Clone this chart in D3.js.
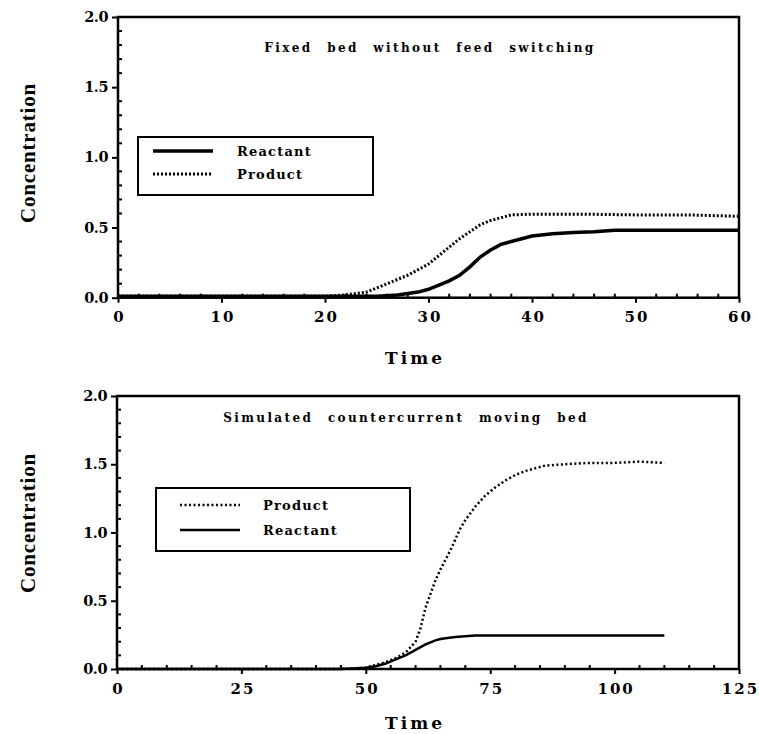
<!DOCTYPE html>
<html lang="en">
<head>
<meta charset="UTF-8" />
<title>Concentration vs Time</title>
<script src="https://d3js.org/d3.v7.min.js"></script>
<style>
  body { margin: 0; background: #fff; }
  svg text { font-family: "DejaVu Serif", serif; font-weight: bold; fill: #000; }
  .frame { fill: none; stroke: #000; stroke-width: 2.5; }
  .tick line { stroke: #000; stroke-width: 2; }
</style>
</head>
<body>
<div id="chart"></div>
<script>
// ---- data ----

// top panel: fixed bed without feed switching
const topTime_reactant = [0, 20, 25, 27, 29, 30, 31, 32, 33, 34, 35, 36, 37, 38, 39, 40, 42, 44, 46, 48, 50, 55, 60];
const topReactant      = [0.01, 0.01, 0.01, 0.02, 0.04, 0.06, 0.09, 0.12, 0.16, 0.22, 0.29, 0.34, 0.38, 0.40, 0.42, 0.44, 0.455, 0.465, 0.47, 0.48, 0.48, 0.48, 0.48];
const topTime_product  = [0, 20, 22, 24, 26, 28, 30, 31, 32, 33, 34, 35, 36, 37, 38, 40, 45, 50, 55, 60];
const topProduct       = [0.01, 0.01, 0.02, 0.04, 0.10, 0.16, 0.24, 0.30, 0.36, 0.42, 0.47, 0.52, 0.55, 0.57, 0.59, 0.595, 0.595, 0.59, 0.59, 0.58];

// bottom panel: simulated countercurrent moving bed
const botTime_product  = [0, 45, 48, 50, 52, 54, 56, 58, 60, 61, 62, 63, 64, 65, 66, 67, 68, 69, 70, 72, 74, 76, 78, 80, 82, 84, 86, 90, 95, 100, 105, 110];
const botProduct       = [0, 0, 0.005, 0.01, 0.03, 0.05, 0.08, 0.12, 0.2, 0.3, 0.45, 0.55, 0.65, 0.73, 0.8, 0.87, 0.95, 1.03, 1.09, 1.19, 1.27, 1.33, 1.38, 1.42, 1.45, 1.47, 1.49, 1.50, 1.51, 1.51, 1.52, 1.51];
const botTime_reactant = [0, 45, 48, 50, 52, 54, 56, 58, 60, 62, 64, 65, 66, 68, 70, 72, 75, 80, 90, 100, 110];
const botReactant      = [0, 0, 0.005, 0.01, 0.02, 0.04, 0.07, 0.10, 0.14, 0.18, 0.21, 0.22, 0.225, 0.235, 0.24, 0.245, 0.245, 0.245, 0.245, 0.245, 0.245];

const yTicks = [0, 0.5, 1.0, 1.5, 2.0];
const topXTicks = [0, 10, 20, 30, 40, 50, 60];
const botXTicks = [0, 25, 50, 75, 100, 125];

const topTitle = "Fixed bed without feed switching";
const botTitle = "Simulated countercurrent moving bed";

// ---- drawing ----
const W = 759, H = 734;
const svg = d3.select("#chart").append("svg").attr("width", W).attr("height", H);

function panel(opt) {
  const x = d3.scaleLinear().domain([0, opt.xmax]).range([opt.left, opt.right]);
  const y = d3.scaleLinear().domain([0, 2]).range([opt.bottom, opt.top]);
  const g = svg.append("g");

  // minor ticks (inward)
  const xMinor = d3.range(0, opt.xmax + 0.001, opt.xminor).filter(v => !opt.xticks.includes(v));
  g.selectAll(".xm").data(xMinor).join("line")
    .attr("x1", d => x(d)).attr("x2", d => x(d))
    .attr("y1", opt.bottom).attr("y2", opt.bottom - 4)
    .attr("stroke", "#000").attr("stroke-width", 2);
  const yMinor = d3.range(0, 2.001, 0.1).filter(v => Math.abs(v * 2 - Math.round(v * 2)) > 0.01);
  g.selectAll(".ym").data(yMinor).join("line")
    .attr("x1", opt.left).attr("x2", opt.left + 4)
    .attr("y1", d => y(d)).attr("y2", d => y(d))
    .attr("stroke", "#000").attr("stroke-width", 2);

  // major axes, ticks pointing out
  const xAxis = g.append("g").attr("transform", `translate(0,${opt.bottom})`)
    .call(d3.axisBottom(x).tickValues(opt.xticks).tickSize(5).tickPadding(9).tickFormat(d3.format("d")));
  xAxis.select(".domain").remove();
  xAxis.selectAll("text").style("font-size", "15px").attr("letter-spacing", 2).attr("dx", 1);

  const yAxis = g.append("g").attr("transform", `translate(${opt.left},0)`)
    .call(d3.axisLeft(y).tickValues(yTicks).tickSize(6).tickPadding(4).tickFormat(d3.format(".1f")));
  yAxis.select(".domain").remove();
  yAxis.selectAll("text").style("font-size", "14.5px").style("letter-spacing", "-0.5px");

  // frame
  g.append("rect").attr("class", "frame")
    .attr("x", opt.left).attr("y", opt.top)
    .attr("width", opt.right - opt.left).attr("height", opt.bottom - opt.top);

  // series
  const line = d3.line().x(d => x(d[0])).y(d => y(d[1]));
  opt.series.forEach(s => {
    g.append("path").datum(s.t.map((t, i) => [t, s.c[i]]))
      .attr("d", line).attr("fill", "none").attr("stroke", "#000")
      .attr("stroke-width", s.width).attr("stroke-dasharray", s.dash || null);
  });

  // title in plot
  g.append("text").attr("x", opt.titleX).attr("y", opt.titleY)
    .attr("text-anchor", "middle").style("font-size", "12px")
    .attr("letter-spacing", 2.4).attr("word-spacing", 8).text(opt.title);

  // legend
  const L = opt.legend;
  g.append("rect").attr("x", L.x).attr("y", L.y).attr("width", L.w).attr("height", L.h)
    .attr("fill", "#fff").attr("stroke", "#000").attr("stroke-width", 2);
  L.items.forEach((it, i) => {
    const yy = L.y + L.first + i * L.gap;
    g.append("line").attr("x1", L.lx1).attr("x2", L.lx2).attr("y1", yy).attr("y2", yy)
      .attr("stroke", "#000").attr("stroke-width", it.width).attr("stroke-dasharray", it.dash || null);
    g.append("text").attr("x", L.tx).attr("y", yy + 5).style("font-size", "13px")
      .attr("letter-spacing", 1.2).text(it.label);
  });

  // axis titles
  g.append("text").attr("transform", `translate(35,${opt.ylabY}) rotate(-90)`)
    .attr("text-anchor", "middle").style("font-family", "'Liberation Serif', serif")
    .style("font-size", "21px").attr("letter-spacing", 0.8).text("Concentration");
  g.append("text").attr("x", 415).attr("y", opt.xlabY)
    .attr("text-anchor", "middle").style("font-size", "17px").attr("letter-spacing", 3).text("Time");
}

panel({
  left: 118, right: 739, top: 17, bottom: 297.7, xmax: 60, xticks: topXTicks, xminor: 2,
  series: [
    { t: topTime_reactant, c: topReactant, width: 3.5 },
    { t: topTime_product, c: topProduct, width: 3, dash: "2,2" }
  ],
  title: topTitle, titleX: 430, titleY: 52,
  legend: { x: 138, y: 137, w: 235, h: 58, first: 14, gap: 23, lx1: 153, lx2: 213, tx: 237,
    items: [ { label: "Reactant", width: 3.5 }, { label: "Product", width: 3, dash: "2,2" } ] },
  ylabY: 153, xlabY: 364
});

panel({
  left: 117, right: 739, top: 396, bottom: 669, xmax: 125, xticks: botXTicks, xminor: 5,
  series: [
    { t: botTime_reactant, c: botReactant, width: 2.5 },
    { t: botTime_product, c: botProduct, width: 2.5, dash: "2,2.5" }
  ],
  title: botTitle, titleX: 406, titleY: 422,
  legend: { x: 156, y: 488, w: 254, h: 63, first: 17, gap: 25, lx1: 180, lx2: 240, tx: 263,
    items: [ { label: "Product", width: 2.5, dash: "2,2.5" }, { label: "Reactant", width: 2.5 } ] },
  ylabY: 523, xlabY: 729
});
</script>
</body>
</html>
